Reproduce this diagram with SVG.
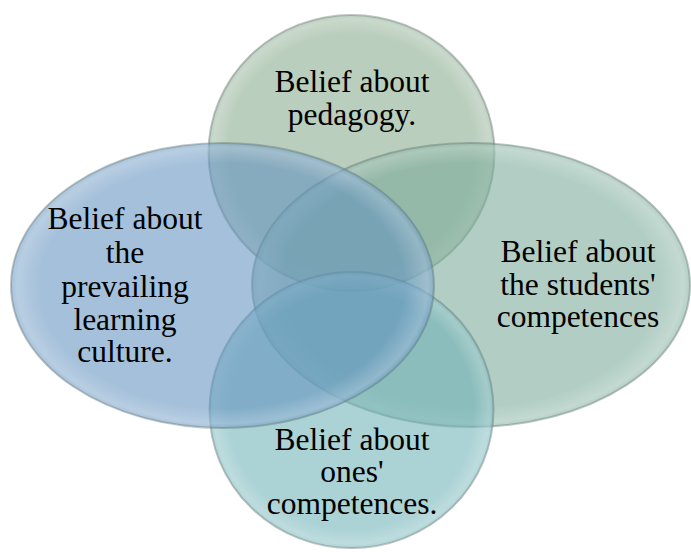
<svg xmlns="http://www.w3.org/2000/svg" width="691" height="552" viewBox="0 0 691 552">
<style>
.shape{fill-opacity:0.58;stroke:#5a6e6a;stroke-opacity:0.4;stroke-width:2}
text{font-family:'Liberation Serif','DejaVu Serif',serif;font-size:31.5px;fill:#000;text-anchor:middle}
</style>
<defs>
<radialGradient id="gloss" cx="0.5" cy="0.5" r="0.5">
<stop offset="0.86" stop-color="#ffffff" stop-opacity="0"/>
<stop offset="0.97" stop-color="#ffffff" stop-opacity="0.22"/>
<stop offset="1" stop-color="#ffffff" stop-opacity="0.05"/>
</radialGradient>
</defs>
<rect width="691" height="552" fill="#ffffff"/>
<g id="node-pedagogy">
<ellipse class="shape" cx="351.5" cy="153" rx="143" ry="138" fill="#88ab8e"/>
<ellipse cx="351.5" cy="153" rx="143" ry="138" fill="url(#gloss)"/>
<text x="352" y="92">Belief about</text>
<text x="352" y="125">pedagogy.</text>
</g>
<g id="node-students">
<ellipse class="shape" cx="471" cy="285" rx="219" ry="142" fill="#7aab99"/>
<ellipse cx="471" cy="285" rx="219" ry="142" fill="url(#gloss)"/>
<text x="578" y="262">Belief about</text>
<text x="578" y="295">the students'</text>
<text x="578" y="327">competences</text>
</g>
<g id="node-ones">
<ellipse class="shape" cx="351.5" cy="410" rx="142" ry="138" fill="#6fb1b6"/>
<ellipse cx="351.5" cy="410" rx="142" ry="138" fill="url(#gloss)"/>
<text x="352" y="450">Belief about</text>
<text x="352" y="482">ones'</text>
<text x="352" y="514">competences.</text>
</g>
<g id="node-culture">
<ellipse class="shape" cx="222.5" cy="285.5" rx="211.5" ry="142.5" fill="#6392c0"/>
<ellipse cx="222.5" cy="285.5" rx="211.5" ry="142.5" fill="url(#gloss)"/>
<text x="125" y="229">Belief about</text>
<text x="125" y="263">the</text>
<text x="125" y="297">prevailing</text>
<text x="125" y="330">learning</text>
<text x="125" y="362">culture.</text>
</g>
<g id="connectors"></g>
</svg>
